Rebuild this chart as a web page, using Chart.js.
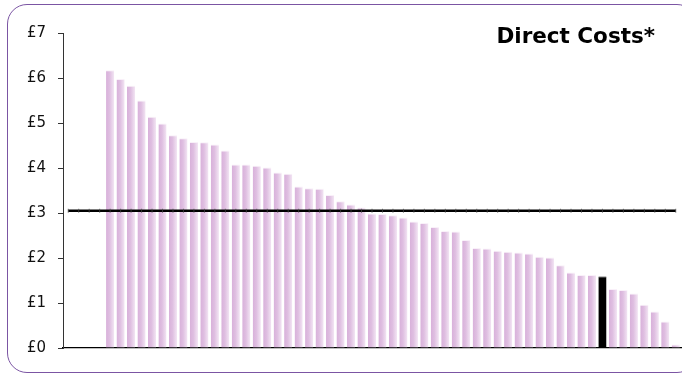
<!DOCTYPE html>
<html>
<head>
<meta charset="utf-8">
<script src="https://cdn.jsdelivr.net/npm/chart.js@4.4.1/dist/chart.umd.min.js"></script>
<style>
  html, body { margin: 0; padding: 0; background: #fff; overflow: hidden; width: 682px; height: 374px; }
  #wrap { position: relative; width: 682px; height: 374px; overflow: hidden; }
  #frame {
    position: absolute; left: 7px; top: 4px; width: 690px; height: 369px;
    box-sizing: border-box; border: 1.5px solid #7b55a3; border-radius: 20px;
    pointer-events: none;
  }
  canvas { position: absolute; left: 0; top: 0; }
</style>
</head>
<body>
<div id="wrap">
  <canvas id="chart" width="686" height="374"></canvas>
  <div id="frame"></div>
</div>
<script>
// Direct cost per unit, sorted high to low; the first four slots are empty.
const costs = [
  null, null, null, null,
  6.17, 5.98, 5.83, 5.50, 5.14, 4.99, 4.73, 4.66, 4.58, 4.57,
  4.52, 4.39, 4.08, 4.08, 4.05, 4.01, 3.90, 3.87, 3.59, 3.55,
  3.54, 3.40, 3.26, 3.19, 3.12, 2.99, 2.98, 2.95, 2.90, 2.81,
  2.78, 2.69, 2.60, 2.59, 2.40, 2.22, 2.21, 2.16, 2.14, 2.12,
  2.10, 2.03, 2.01, 1.84, 1.68, 1.62, 1.62, 1.59, 1.31, 1.29,
  1.21, 0.96, 0.81, 0.59, 0.08
];
const categories = costs.map((_, i) => String(i + 1));
const highlightIndex = 51;          // the unit shown in black
const averageCost = 3.05;           // overall average, drawn as a line
const yTicks = [0, 1, 2, 3, 4, 5, 6, 7];
const titleText = 'Direct Costs*';

function barFill(ctx) {
  if (ctx.dataIndex === highlightIndex) return '#000000';
  const chart = ctx.chart;
  const xs = chart.scales.x;
  if (!xs || !xs.width) return '#e0c2e2';
  const pitch = xs.width / categories.length;
  const cx = xs.getPixelForValue(ctx.dataIndex);
  const half = pitch * 0.78 / 2;
  const g = chart.ctx.createLinearGradient(cx - half, 0, cx + half, 0);
  g.addColorStop(0, '#d8b0da');
  g.addColorStop(0.45, '#dfbfe1');
  g.addColorStop(1, '#f3e6f4');
  return g;
}

const titlePlugin = {
  id: 'cornerTitle',
  afterDraw(chart) {
    const c = chart.ctx;
    c.save();
    c.font = 'bold 21.5px "DejaVu Sans", Verdana, sans-serif';
    c.fillStyle = '#000';
    c.textAlign = 'right';
    c.textBaseline = 'alphabetic';
    c.fillText(titleText, 655, 43);
    c.restore();
  }
};

new Chart(document.getElementById('chart'), {
  data: {
    labels: categories,
    datasets: [
      {
        type: 'line',
        data: categories.map(() => averageCost),
        borderColor: '#000',
        borderWidth: 2.6,
        pointStyle: 'line',
        rotation: 90,
        pointRadius: 2,
        pointBorderWidth: 1,
        pointBorderColor: 'rgba(70,70,70,0.7)',
        fill: false,
        order: 0
      },
      {
        type: 'bar',
        data: costs,
        backgroundColor: barFill,
        borderColor: ctx => ctx.dataIndex === highlightIndex ? '#000' : 'rgba(248,238,248,0.9)',
        borderWidth: { top: 1, left: 0, right: 0, bottom: 0 },
        borderSkipped: 'bottom',
        categoryPercentage: 1,
        barPercentage: 0.78,
        order: 1
      }
    ]
  },
  options: {
    responsive: false,
    animation: false,
    devicePixelRatio: 1,
    layout: { padding: { left: 0, right: 0, top: 33, bottom: 26 } },
    plugins: { legend: { display: false }, tooltip: { enabled: false }, title: { display: false } },
    scales: {
      x: {
        type: 'category',
        offset: true,
        ticks: { display: false },
        grid: { display: false, drawTicks: false },
        border: { display: true, color: '#000', width: 1.3 }
      },
      y: {
        min: 0,
        max: 7,
        afterFit(scale) { scale.width = 63; },
        afterBuildTicks(scale) { scale.ticks = yTicks.map(v => ({ value: v })); },
        ticks: {
          padding: 12,
          color: '#111',
          font: { family: '"DejaVu Sans", Verdana, sans-serif', size: 15 },
          callback: v => '£' + v
        },
        grid: { drawOnChartArea: false, drawTicks: true, tickLength: 5, color: '#333' },
        border: { display: true, color: '#333', width: 1 }
      }
    }
  },
  plugins: [titlePlugin]
});
</script>
</body>
</html>
